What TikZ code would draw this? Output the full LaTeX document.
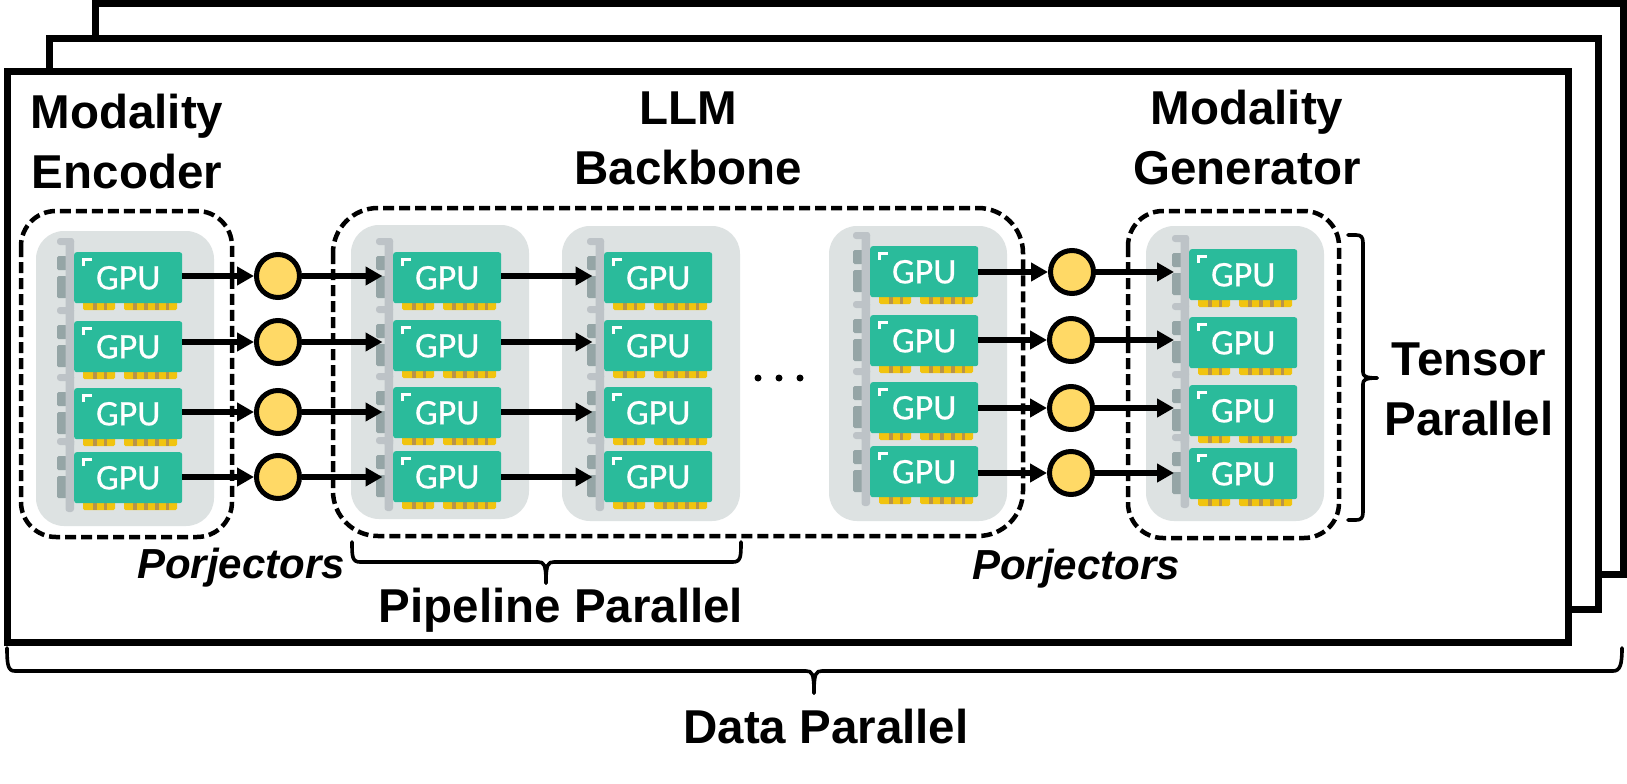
\documentclass[tikz,border=0pt]{standalone}
\usepackage{fontspec}
\setmainfont{Liberation Sans}
\newfontfamily\gpufont[FakeBold=0.5]{Carlito}
\usetikzlibrary{arrows.meta}
\definecolor{panelgrey}{HTML}{DDE2E2}
\definecolor{cardteal}{HTML}{2ABB9B}
\definecolor{barsilver}{HTML}{BDC3C7}
\definecolor{slotgrey}{HTML}{95A5A6}
\definecolor{fingergold}{HTML}{F1C40F}
\definecolor{fingerdark}{HTML}{B8934A}
\definecolor{projyellow}{HTML}{FFD966}
\tikzset{
  frame/.style={draw=black,fill=white,line width=7pt,miter limit=10},
  panel/.style={fill=panelgrey,rounded corners=28pt},
  dashbox/.style={draw=black,line width=4.5pt,dash pattern=on 11pt off 5pt,rounded corners=#1},
  card/.style={fill=cardteal,rounded corners=2.5pt,inner sep=0pt,minimum width=108pt,minimum height=51pt,
     anchor=north west,text=white,text depth=0pt,font=\gpufont\fontsize{36}{36}\selectfont},
  proj/.style={circle,draw=black,fill=projyellow,line width=5pt,inner sep=0pt,minimum size=43pt},
  flow/.style={line width=5.5pt,-{Triangle[length=17pt,width=18pt]}},
  brace/.style={line width=3.6pt,line cap=round,line join=round},
  lab/.style={font=\bfseries\fontsize{47.5}{59.5}\selectfont,inner sep=0pt,anchor=base,align=center},
  itlab/.style={font=\bfseries\itshape\fontsize{42}{45}\selectfont,inner sep=0pt,anchor=base},
  dotmark/.style={circle,fill=black,inner sep=0pt,minimum size=7pt},
}
\newcommand{\gpucard}[3]{%
  \begin{scope}[shift={(#2,#3)}]
    \fill[slotgrey,rounded corners=1.5pt] (-17,4) rectangle (-7,18);
    \fill[slotgrey,rounded corners=1.5pt] (-17,24) rectangle (-7,46);
    \fill[barsilver,rounded corners=3pt] (-17,-14) rectangle (0,-7);
    \fill[barsilver,rounded corners=3pt] (-8.5,-14) rectangle (0,60);
    \fill[fingergold,rounded corners=1.5pt] (9,48) rectangle (41,58);
    \fill[fingergold,rounded corners=1.5pt] (50,48) rectangle (103,58);
    \foreach \sx in {19,29.5,59,70,81,91.5}{\fill[fingerdark] (\sx,51) rectangle ++(3.5,7);}
    \node[card] (#1) at (0,0) {GPU};
    \draw[white,line width=3.4pt] (9.5,14) -- (9.5,7.5) -- (18,7.5);
  \end{scope}}
\begin{document}
\begin{tikzpicture}[x=1pt,y=-1pt]
\useasboundingbox (0,0) rectangle (1627,784);
% stacked frames
\draw[frame] (95,3.5) rectangle (1623.5,574.5);
\draw[frame] (49,38.5) rectangle (1598.5,609.5);
\draw[frame] (7,71.5) rectangle (1568.5,642.5);
% panels
\fill[panel] (36,231) rectangle (214,526);
\fill[panel] (351,225) rectangle (529,519);
\fill[panel] (562,226) rectangle (740,521);
\fill[panel] (829,226) rectangle (1007,521);
\fill[panel] (1146,226) rectangle (1324,521);
% dashed groups
\draw[dashbox=35pt] (21,211) rectangle (232,537);
\draw[dashbox=45pt] (333,208) rectangle (1023,536);
\draw[dashbox=35pt] (1128,211) rectangle (1339,538);
% GPU cards
\gpucard{a1}{74}{252}\gpucard{a2}{74}{321}\gpucard{a3}{74}{388}\gpucard{a4}{74}{452}
\gpucard{b1}{393}{252}\gpucard{b2}{393}{320}\gpucard{b3}{393}{387}\gpucard{b4}{393}{451}
\gpucard{c1}{604}{252}\gpucard{c2}{604}{320}\gpucard{c3}{604}{387}\gpucard{c4}{604}{451}
\gpucard{d1}{870}{246}\gpucard{d2}{870}{315}\gpucard{d3}{870}{382}\gpucard{d4}{870}{446}
\gpucard{e1}{1189}{249}\gpucard{e2}{1189}{317}\gpucard{e3}{1189}{385}\gpucard{e4}{1189}{448}
% projectors
\node[proj] (p1) at (278,276) {};
\node[proj] (p2) at (278,342) {};
\node[proj] (p3) at (278,412) {};
\node[proj] (p4) at (278,477) {};
\node[proj] (q1) at (1072,272) {};
\node[proj] (q2) at (1071,340) {};
\node[proj] (q3) at (1071,408) {};
\node[proj] (q4) at (1071,473) {};
% connectors
\foreach \i in {1,2,3,4}{
  \draw[flow] (a\i.east |- p\i) -- (p\i.west);
  \draw[flow,shorten >=10.5pt] (p\i.east) -- (b\i.west |- p\i);
  \draw[flow,shorten >=11.5pt] (b\i.east |- p\i) -- (c\i.west |- p\i);
  \draw[flow] (d\i.east |- q\i) -- (q\i.west);
  \draw[flow,shorten >=15pt] (q\i.east) -- (e\i.west |- q\i);
}
% ellipsis
\node[dotmark] (dot1) at (758,378) {};
\node[dotmark] (dot2) at (779,378) {};
\node[dotmark] (dot3) at (800,378) {};
% braces
\draw[brace] (352,542) .. controls (352,556) and (352,562) .. (360,562) -- (538,562)
   .. controls (544,562) and (546,564) .. (546,583);
\draw[brace] (741,542) .. controls (741,556) and (741,562) .. (733,562) -- (554,562)
   .. controls (548,562) and (546,564) .. (546,583);
\draw[brace] (7,648) .. controls (7,665) and (8,671) .. (15,671) -- (806,671)
   .. controls (812,671) and (814,673) .. (814,693);
\draw[brace] (1622,648) .. controls (1622,665) and (1620,671) .. (1613,671) -- (822,671)
   .. controls (816,671) and (814,673) .. (814,693);
\draw[brace] (1348,235) -- (1356,235) .. controls (1361,235) and (1363,237) .. (1363,243) -- (1363,372)
   .. controls (1363,376) and (1365,378) .. (1377,378);
\draw[brace] (1348,520) -- (1356,520) .. controls (1361,520) and (1363,518) .. (1363,512) -- (1363,384)
   .. controls (1363,380) and (1365,378) .. (1377,378);
% labels
\node[lab] (encl) at (127,188) {Modality\\Encoder};
\node[lab] (llml) at (688,184) {LLM\\Backbone};
\node[lab] (genl) at (1247,184) {Modality\\Generator};
\node[lab] (tenl) at (1469,435) {Tensor\\Parallel};
\node[lab] (pipl) at (561,622) {Pipeline Parallel};
\node[lab] (datal) at (826,743) {Data Parallel};
\node[itlab] (porl) at (241,578) {Porjectors};
\node[itlab] (porr) at (1076,579) {Porjectors};
\end{tikzpicture}
\end{document}
